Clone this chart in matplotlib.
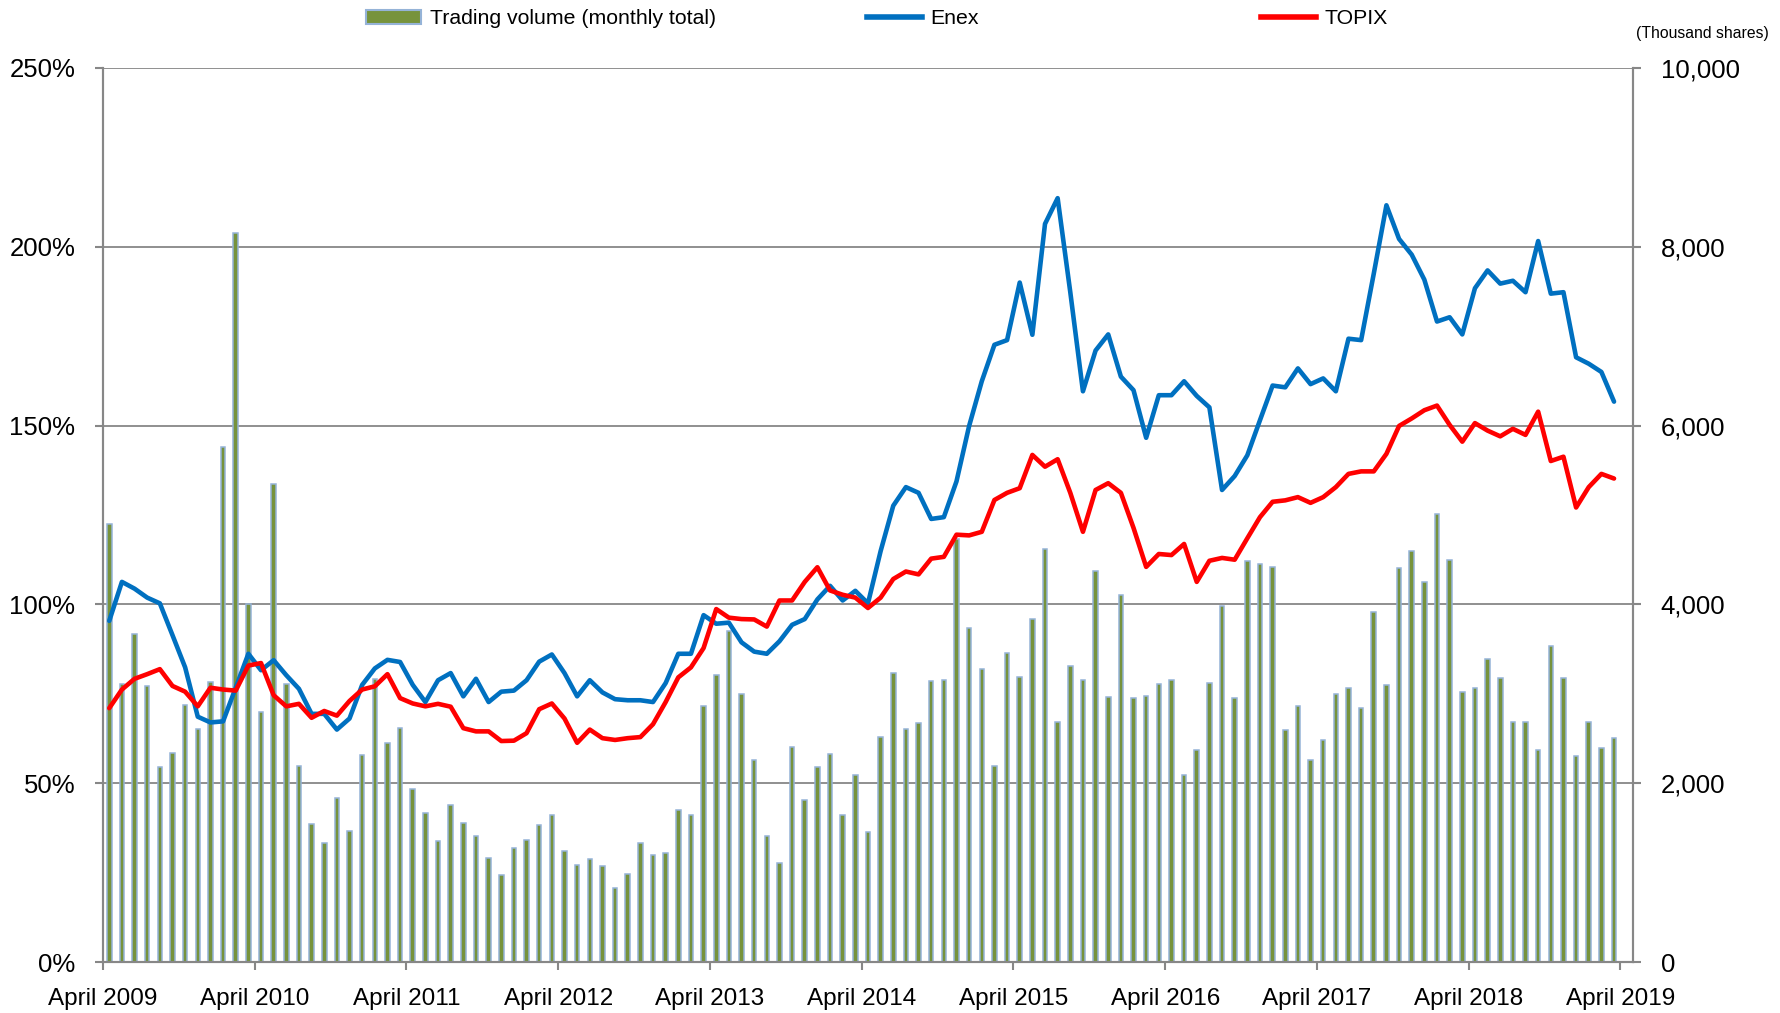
import matplotlib
matplotlib.use("Agg")
import matplotlib.pyplot as plt
from matplotlib.patches import Patch
from matplotlib.lines import Line2D
import numpy as np

plt.rcParams['font.family'] = ['Liberation Sans', 'DejaVu Sans']

# Monthly categories: April 2009 .. March 2019 (120 months)
months = [f"{m} {y}" for y in range(2009, 2020) for m in
          ["January", "February", "March", "April", "May", "June", "July",
           "August", "September", "October", "November", "December"]][3:123]

tick_labels = ["April 2009", "April 2010", "April 2011", "April 2012", "April 2013",
               "April 2014", "April 2015", "April 2016", "April 2017", "April 2018",
               "April 2019"]

volume = [4900, 3110, 3670, 3090, 2180, 2340, 2880, 2610, 3130, 5760,
          8150, 4010, 2800, 5350, 3110, 2190, 1540, 1330, 1830, 1470,
          2320, 3170, 2450, 2620, 1940, 1670, 1350, 1760, 1550, 1410,
          1160, 970, 1280, 1370, 1530, 1650, 1240, 1090, 1150, 1070,
          830, 990, 1330, 1200, 1220, 1700, 1650, 2860, 3210, 3700,
          3000, 2260, 1410, 1110, 2410, 1810, 2180, 2330, 1650, 2090,
          1460, 2520, 3230, 2610, 2670, 3140, 3160, 4730, 3740, 3280,
          2190, 3460, 3190, 3840, 4620, 2680, 3310, 3160, 4370, 2970,
          4100, 2950, 2980, 3110, 3150, 2090, 2370, 3120, 3980, 2950,
          4490, 4450, 4420, 2590, 2860, 2260, 2480, 3000, 3060, 2840,
          3910, 3100, 4410, 4600, 4250, 5010, 4500, 3020, 3060, 3390,
          3180, 2690, 2680, 2370, 3540, 3180, 2300, 2690, 2390, 2510]

enex = [95.4, 106.3, 104.4, 101.9, 100.3, 91.4, 82.4, 68.6, 67.0, 67.3,
        76.7, 86.2, 81.6, 84.4, 80.2, 76.4, 69.4, 69.4, 65.0, 68.1,
        77.5, 82.1, 84.5, 83.9, 77.5, 72.7, 78.8, 80.8, 74.3, 79.2,
        72.7, 75.6, 75.9, 78.8, 84.0, 86.0, 80.8, 74.3, 78.8, 75.4,
        73.5, 73.2, 73.2, 72.7, 78.0, 86.2, 86.2, 97.0, 94.6, 94.9,
        89.4, 86.8, 86.2, 89.7, 94.3, 95.9, 101.4, 105.2, 101.1, 103.8,
        100.3, 114.9, 127.6, 132.8, 131.2, 123.9, 124.4, 134.4, 149.9, 162.4,
        172.6, 173.9, 190.0, 175.4, 206.4, 213.6, 187.3, 159.6, 171.0, 175.5,
        163.7, 159.9, 146.6, 158.5, 158.5, 162.4, 158.3, 155.1, 132.0, 135.9,
        141.7, 151.5, 161.2, 160.7, 166.0, 161.6, 163.2, 159.6, 174.3, 173.9,
        192.5, 211.6, 202.2, 197.8, 190.8, 179.1, 180.3, 175.5, 188.4, 193.4,
        189.7, 190.5, 187.3, 201.6, 186.9, 187.3, 169.1, 167.3, 165.0, 156.7]

topix = [71.0, 76.2, 79.2, 80.5, 81.9, 77.2, 75.6, 71.5, 76.7, 76.2,
         75.9, 82.9, 83.6, 74.6, 71.5, 72.2, 68.3, 70.2, 68.9, 73.0,
         76.2, 77.1, 80.5, 73.8, 72.3, 71.5, 72.2, 71.4, 65.4, 64.5,
         64.5, 61.8, 61.9, 64.0, 70.7, 72.3, 68.1, 61.3, 65.0, 62.6,
         62.1, 62.6, 62.9, 66.5, 72.7, 79.6, 82.4, 87.8, 98.7, 96.3,
         95.9, 95.8, 93.8, 101.1, 101.1, 106.3, 110.4, 103.9, 102.7, 101.9,
         99.0, 101.9, 107.1, 109.2, 108.4, 112.8, 113.3, 119.5, 119.3, 120.3,
         129.2, 131.2, 132.5, 141.8, 138.5, 140.6, 131.2, 120.3, 132.0, 133.9,
         131.2, 121.4, 110.5, 114.1, 113.8, 116.9, 106.3, 112.2, 113.0, 112.5,
         118.5, 124.4, 128.7, 129.1, 130.0, 128.4, 130.0, 132.8, 136.5, 137.2,
         137.2, 142.1, 149.9, 152.0, 154.3, 155.6, 150.2, 145.5, 150.7, 148.6,
         147.0, 149.1, 147.4, 153.9, 140.1, 141.3, 127.1, 132.8, 136.5, 135.2]

GREEN = "#77933C"
EDGE = "#95B3D7"
BLUE = "#0070C0"
RED = "#FF0000"
GRID = "#878787"

fig = plt.figure(figsize=(17.81, 10.13), dpi=100)
ax = fig.add_axes([0.0578, 0.0503, 0.9169 - 0.0578, 0.9329 - 0.0503])
ax2 = ax.twinx()

x = np.arange(len(months))

# Bars (volume) on primary axes, ticks on the right side
ax.bar(x, volume, width=0.36, color=GREEN, edgecolor=EDGE, linewidth=1.1, zorder=2)
ax.set_ylim(0, 10000)
ax.set_yticks(np.arange(0, 10001, 2000))
ax.set_yticklabels([f"{v:,}" for v in range(0, 10001, 2000)])
ax.yaxis.tick_right()
ax.grid(axis='y', color=GRID, linewidth=1.3, zorder=0)
ax.set_axisbelow(True)

# Lines (percent) on secondary axes, ticks on the left side
ax2.plot(x, enex, color=BLUE, linewidth=3.3, solid_joinstyle='round', solid_capstyle='round', zorder=3)
ax2.plot(x, topix, color=RED, linewidth=3.3, solid_joinstyle='round', solid_capstyle='round', zorder=3)
ax2.set_ylim(0, 250)
ax2.set_yticks(np.arange(0, 251, 50))
ax2.set_yticklabels([f"{v}%" for v in range(0, 251, 50)])
ax2.yaxis.tick_left()

ax.set_xlim(-0.5, 120.5)
ax.set_xticks(np.arange(-0.5, 120, 12))
ax.set_xticklabels(tick_labels)

for a in (ax, ax2):
    for s in a.spines.values():
        s.set_color(GRID)
        s.set_linewidth(1.5)
    a.spines['top'].set_visible(False)

ax.tick_params(axis='x', direction='out', length=6, width=1.5, color=GRID,
               labelsize=17.5, pad=13, labelcolor='black')
ax.tick_params(axis='y', direction='out', length=6, width=1.5, color=GRID,
               labelsize=18.5, pad=14, labelcolor='black')
ax2.tick_params(axis='y', direction='out', length=6, width=1.5, color=GRID,
                labelsize=18.5, pad=14, labelcolor='black')

fig.text(0.993, 0.967, "(Thousand shares)", ha='right', va='center', fontsize=11.3)

# Legend (three entries spaced as in the original)
leg_kw = dict(frameon=False, fontsize=15.3, borderpad=0, borderaxespad=0,
              handlelength=2.6, handletextpad=0.4, loc='center left')
h1 = Patch(facecolor=GREEN, edgecolor=EDGE, linewidth=1.5, label="Trading volume (monthly total)")
h2 = Line2D([], [], color=BLUE, linewidth=4, label="Enex")
h3 = Line2D([], [], color=RED, linewidth=4, label="TOPIX")
fig.legend(handles=[h1], bbox_to_anchor=(366 / 1781, 1 - 19 / 1013), **leg_kw)
fig.legend(handles=[h2], bbox_to_anchor=(867 / 1781, 1 - 19 / 1013), **leg_kw)
fig.legend(handles=[h3], bbox_to_anchor=(1261 / 1781, 1 - 19 / 1013), **leg_kw)

fig.savefig("out.png", dpi=100)
